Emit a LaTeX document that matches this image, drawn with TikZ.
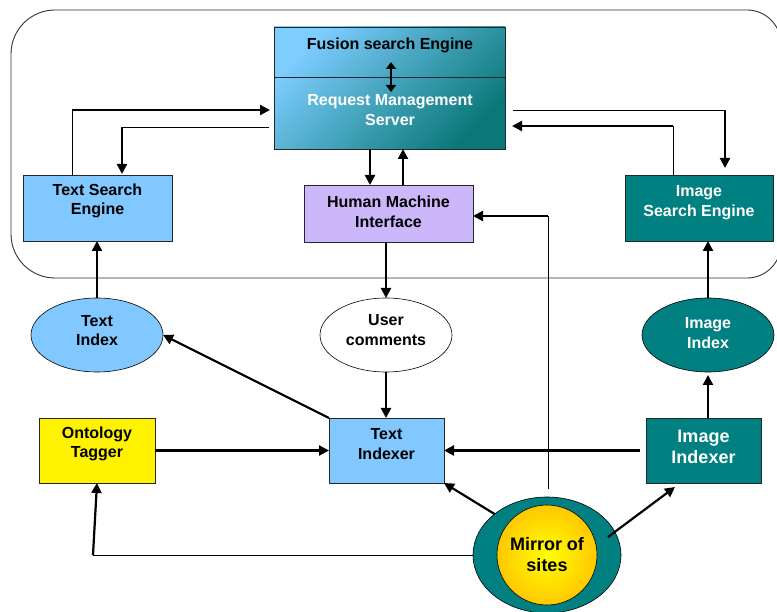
\documentclass[tikz,border=0pt]{standalone}
\usepackage{fontspec}
\setmainfont{Liberation Sans}
\usetikzlibrary{arrows.meta,shapes.geometric}
\definecolor{lblue}{RGB}{128,200,255}
\definecolor{lav}{RGB}{204,183,250}
\definecolor{teal2}{RGB}{0,128,128}
\definecolor{fusA}{RGB}{125,205,255}
\definecolor{fusB}{RGB}{10,120,120}
\definecolor{gold}{RGB}{255,200,0}
\begin{document}
\begin{tikzpicture}[x=1pt,y=-1pt,
 box/.style={draw=black!85, line width=0.8pt, rectangle, inner sep=0pt, outer sep=0pt},
 ell/.style={draw=black, line width=0.6pt, ellipse, inner sep=0pt, outer sep=0pt, minimum width=132pt, minimum height=74pt},
 txt/.style={font=\bfseries\fontsize{16}{19.5}\selectfont, align=center, inner sep=0pt},
 bigtxt/.style={font=\bfseries\fontsize{18}{21}\selectfont, align=center, inner sep=0pt},
 arr/.style={line width=2.2pt, -{Triangle[length=10pt,width=10pt]}},
 ln/.style={line width=0.9pt}]
\useasboundingbox (0,0) rectangle (777,612);
\draw[line width=0.9pt, draw=black!80] [rounded corners=44pt] (11,144) |- (400,10)
  [rounded corners=34pt] -| (781,144) |- (400,278)
  [rounded corners=44pt] -| (11,144) -- cycle;

% Fusion / Request management
\node[box, minimum width=231pt, minimum height=122pt, top color=fusA, bottom color=fusB, shading angle=45] (fus) at (389.5,88) {};
\draw[line width=0.8pt, black!85] (274,77) -- (505,77);
\node[txt] (fusT) at (390,45) {Fusion search Engine};
\node[txt, text=white] (rmsT) at (390,110) {Request Management\\Server};
\coordinate (d1) at (391,62);
\coordinate (d2) at (391,92);
\draw[line width=2.4pt, {Triangle[length=7pt,width=10pt]}-{Triangle[length=7pt,width=10pt]}] (d1) -- (d2);

% upper boxes
\node[box, fill=lblue, minimum width=149pt, minimum height=66pt] (tse) at (97.5,208) {};
\node[txt] (tseT) at (97.5,201) {Text Search\\Engine};
\node[box, fill=lav, minimum width=169pt, minimum height=57pt] (hmi) at (388.5,213.5) {};
\node[txt] (hmiT) at (388.5,212) {Human Machine\\Interface};
\node[box, fill=teal2, minimum width=148pt, minimum height=66pt] (ise) at (699,208) {};
\node[txt, text=white] (iseT) at (699,202.5) {Image\\Search Engine};

% ellipses
\node[ell, fill=lblue] (tidx) at (97,335) {};
\node[txt] (tidxT) at (97,330.5) {Text\\Index};
\node[ell, fill=white] (uc) at (386,335) {};
\node[txt] (ucT) at (386,330) {User\\comments};
\node[ell, fill=teal2] (iidx) at (708,335) {};
\node[txt, text=white] (iidxT) at (708,333) {Image\\Index};

% lower boxes
\node[box, fill=yellow, minimum width=116pt, minimum height=65pt] (ont) at (97,450.5) {};
\node[txt] (ontT) at (97,444) {Ontology\\Tagger};
\node[box, fill=lblue, minimum width=115pt, minimum height=65pt] (tixr) at (386.5,450.5) {};
\node[txt] (tixrT) at (386.5,444) {Text\\Indexer};
\node[box, fill=teal2, minimum width=115pt, minimum height=65pt] (iixr) at (703.5,450.5) {};
\node[bigtxt, text=white] (iixrT) at (703.5,446.5) {Image\\Indexer};

% mirror
\node[ellipse, draw=black, line width=0.6pt, fill=teal2, minimum width=148pt, minimum height=116pt, inner sep=0pt, outer sep=0pt] (mir) at (547,555) {};
\node[circle, draw=black, line width=0.6pt, minimum size=100pt, inner sep=0pt, inner color=yellow, outer color=gold] (mirIn) at (547,555) {};
\node[bigtxt] (mirT) at (547,554.5) {Mirror of\\sites};

% connectors
\coordinate (c1) at (72,110);
\draw[ln] (c1 |- tse.north) -- (c1);
\draw[arr, shorten >=4pt] (c1) -- (c1 -| fus.west);

\coordinate (c2) at (122,127);
\draw[ln, shorten <=5pt] (c2 -| fus.west) -- (c2);
\draw[arr, shorten >=1pt] (c2) -- (c2 |- tse.north);

\coordinate (v1) at (370,0);
\coordinate (v2) at (403,0);
\draw[arr] (fus.south -| v1) -- (hmi.north -| v1);
\draw[arr] (hmi.north -| v2) -- (fus.south -| v2);

\coordinate (c3) at (725,110);
\draw[ln, shorten <=8pt] (c3 -| fus.east) -- (c3);
\draw[arr, shorten >=7pt] (c3) -- (c3 |- ise.north);

\coordinate (c4) at (673,126);
\draw[ln] (c4 |- ise.north) -- (c4);
\draw[arr, shorten >=7pt] (c4) -- (c4 -| fus.east);

\coordinate (c5) at (548,216);
\draw[ln, shorten <=8pt] (c5 |- mir.north) -- (c5);
\draw[arr] (c5) -- (c5 -| hmi.east);

\draw[arr] (tidx.north) -- (tidx.north |- tse.south);
\draw[arr] (hmi.south -| uc.north) -- (uc.north);
\draw[arr] (uc.south) -- (uc.south |- tixr.north);
\draw[arr] (iidx.north) -- (iidx.north |- ise.south);
\draw[arr, shorten >=3pt] (iixr.north -| iidx.south) -- (iidx.south);
\draw[arr] (ont.east) -- (ont.east -| tixr.west);
\draw[arr, shorten <=6pt] (iixr.west) -- (iixr.west -| tixr.east);
\draw[arr] (tixr.north west) -- (tidx.east);
\draw[arr] (mir.142) -- (tixr.south east);
\draw[arr] ([shift={(61,-18)}]mir.center) -- ([shift={(29,4)}]iixr.south west);

\coordinate (c6) at (93,555);
\draw[ln] (mir.west) -- (c6);
\draw[arr] (c6) -- (ont.south);
\end{tikzpicture}
\end{document}
